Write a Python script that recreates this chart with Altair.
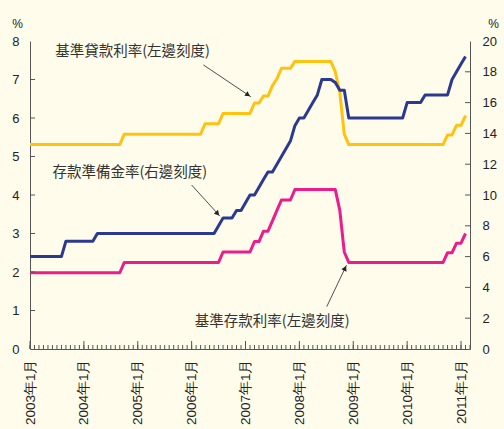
import json
import math
import altair as alt
import pandas as pd

# ---------------- data (monthly, 2003-01 .. 2011-02) ----------------
lending = [
    5.31, 5.31, 5.31, 5.31, 5.31, 5.31, 5.31, 5.31, 5.31, 5.31, 5.31, 5.31,   # 2003
    5.31, 5.31, 5.31, 5.31, 5.31, 5.31, 5.31, 5.31, 5.31, 5.58, 5.58, 5.58,   # 2004
    5.58, 5.58, 5.58, 5.58, 5.58, 5.58, 5.58, 5.58, 5.58, 5.58, 5.58, 5.58,   # 2005
    5.58, 5.58, 5.58, 5.85, 5.85, 5.85, 5.85, 6.12, 6.12, 6.12, 6.12, 6.12,   # 2006
    6.12, 6.12, 6.39, 6.39, 6.57, 6.57, 6.84, 7.02, 7.29, 7.29, 7.29, 7.47,   # 2007
    7.47, 7.47, 7.47, 7.47, 7.47, 7.47, 7.47, 7.47, 7.20, 6.66, 5.58, 5.31,   # 2008
    5.31, 5.31, 5.31, 5.31, 5.31, 5.31, 5.31, 5.31, 5.31, 5.31, 5.31, 5.31,   # 2009
    5.31, 5.31, 5.31, 5.31, 5.31, 5.31, 5.31, 5.31, 5.31, 5.56, 5.56, 5.81,   # 2010
    5.81, 6.06,                                                               # 2011
]
deposit = [
    1.98, 1.98, 1.98, 1.98, 1.98, 1.98, 1.98, 1.98, 1.98, 1.98, 1.98, 1.98,
    1.98, 1.98, 1.98, 1.98, 1.98, 1.98, 1.98, 1.98, 1.98, 2.25, 2.25, 2.25,
    2.25, 2.25, 2.25, 2.25, 2.25, 2.25, 2.25, 2.25, 2.25, 2.25, 2.25, 2.25,
    2.25, 2.25, 2.25, 2.25, 2.25, 2.25, 2.25, 2.52, 2.52, 2.52, 2.52, 2.52,
    2.52, 2.52, 2.79, 2.79, 3.06, 3.06, 3.33, 3.60, 3.87, 3.87, 3.87, 4.14,
    4.14, 4.14, 4.14, 4.14, 4.14, 4.14, 4.14, 4.14, 4.14, 3.60, 2.52, 2.25,
    2.25, 2.25, 2.25, 2.25, 2.25, 2.25, 2.25, 2.25, 2.25, 2.25, 2.25, 2.25,
    2.25, 2.25, 2.25, 2.25, 2.25, 2.25, 2.25, 2.25, 2.25, 2.50, 2.50, 2.75,
    2.75, 3.00,
]
reserve = [
    6.0, 6.0, 6.0, 6.0, 6.0, 6.0, 6.0, 6.0, 7.0, 7.0, 7.0, 7.0,
    7.0, 7.0, 7.0, 7.5, 7.5, 7.5, 7.5, 7.5, 7.5, 7.5, 7.5, 7.5,
    7.5, 7.5, 7.5, 7.5, 7.5, 7.5, 7.5, 7.5, 7.5, 7.5, 7.5, 7.5,
    7.5, 7.5, 7.5, 7.5, 7.5, 7.5, 8.0, 8.5, 8.5, 8.5, 9.0, 9.0,
    9.5, 10.0, 10.0, 10.5, 11.0, 11.5, 11.5, 12.0, 12.5, 13.0, 13.5, 14.5,
    15.0, 15.0, 15.5, 16.0, 16.5, 17.5, 17.5, 17.5, 17.3, 16.8, 16.8, 15.0,
    15.0, 15.0, 15.0, 15.0, 15.0, 15.0, 15.0, 15.0, 15.0, 15.0, 15.0, 15.0,
    16.0, 16.0, 16.0, 16.0, 16.5, 16.5, 16.5, 16.5, 16.5, 16.5, 17.5, 18.0,
    18.5, 19.0,
]
months = list(range(len(lending)))

x_tick_values = [0, 12, 24, 36, 48, 60, 72, 84, 96]
x_labels = ["2003年1月", "2004年1月", "2005年1月", "2006年1月", "2007年1月",
            "2008年1月", "2009年1月", "2010年1月", "2011年1月"]
left_ticks = [0, 1, 2, 3, 4, 5, 6, 7, 8]
right_ticks = [0, 2, 4, 6, 8, 10, 12, 14, 16, 18, 20]

ann_text = ["基準貸款利率(左邊刻度)", "存款準備金率(右邊刻度)", "基準存款利率(左邊刻度)"]
ann_x = [5.6, 5.0, 36.7]
ann_y = [7.71, 4.57, 0.71]

arrow_x1 = [38.6, 36.0, 66.1]
arrow_y1 = [7.38, 4.26, 1.10]
arrow_x2 = [49.2, 42.3, 70.5]
arrow_y2 = [6.55, 3.45, 2.18]

# ---------------- styling ----------------
W, H = 440, 308
YEL, PINK, BLUE = "#FFC20E", "#EC1C8C", "#2B3A90"
BG = "#fffceb"
AX = "#555555"
TXT = "#222222"
NUM_FONT = "Liberation Sans"
CJK_FONT = "Noto Sans CJK TC"

df = pd.DataFrame({"m": months, "lend": lending, "dep": deposit, "rrr": reserve})

xscale = alt.Scale(domain=[0, 98], nice=False, zero=False)
lscale = alt.Scale(domain=[0, 8], nice=False)
rscale = alt.Scale(domain=[0, 20], nice=False)

label_expr = json.dumps(x_labels, ensure_ascii=False) + "[round(datum.value/12)]"
x_axis = alt.Axis(values=x_tick_values, labelExpr=label_expr, labelAngle=-90,
                  labelFont=NUM_FONT, labelFontSize=13.5, labelColor=TXT,
                  labelPadding=10, ticks=False, grid=False,
                  domainColor=AX, domainWidth=1, title=None)
left_axis = alt.Axis(values=left_ticks, orient="left", ticks=False,
                     labelPadding=11, labelFont=NUM_FONT, labelFontSize=13,
                     labelColor=TXT, grid=False, domainColor=AX, domainWidth=1,
                     title="%", titleAngle=0, titleX=-13, titleY=-18,
                     titleAlign="center", titleBaseline="middle",
                     titleFont=NUM_FONT, titleFontSize=12,
                     titleFontWeight="normal", titleColor=TXT)
right_axis = alt.Axis(values=right_ticks, orient="right", ticks=False,
                      labelPadding=12, labelFont=NUM_FONT, labelFontSize=13,
                      labelColor=TXT, grid=False, domainColor=AX, domainWidth=1,
                      title="%", titleAngle=0, titleX=23, titleY=-18,
                      titleAlign="center", titleBaseline="middle",
                      titleFont=NUM_FONT, titleFontSize=12,
                      titleFontWeight="normal", titleColor=TXT)


def X(field):
    return alt.X(field, scale=xscale, axis=x_axis)


base = alt.Chart(df)

lend_line = base.mark_line(color=YEL, strokeWidth=3, strokeJoin="round").encode(
    x=X("m:Q"),
    y=alt.Y("lend:Q", scale=lscale, axis=left_axis),
)
rrr_line = base.mark_line(color=BLUE, strokeWidth=3, strokeJoin="round").encode(
    x=X("m:Q"),
    y=alt.Y("rrr:Q", scale=rscale, axis=right_axis),
)
dep_line = base.mark_line(color=PINK, strokeWidth=3, strokeJoin="round").encode(
    x=X("m:Q"),
    y=alt.Y("dep:Q", scale=lscale, axis=None),
)

# manual inward ticks
minor = alt.Chart(pd.DataFrame({"m": list(range(0, 99))})).mark_rule(
    color=AX, strokeWidth=1).encode(
    x=X("m:Q"), y=alt.value(H), y2=alt.value(H - 4))
major = alt.Chart(pd.DataFrame({"m": x_tick_values})).mark_rule(
    color=AX, strokeWidth=1).encode(
    x=X("m:Q"), y=alt.value(H), y2=alt.value(H - 8))
lticks = alt.Chart(pd.DataFrame({"v": left_ticks[1:-1]})).mark_rule(
    color=AX, strokeWidth=1).encode(
    y=alt.Y("v:Q", scale=lscale, axis=None), x=alt.value(0), x2=alt.value(5))
rticks = alt.Chart(pd.DataFrame({"v": right_ticks[1:-1]})).mark_rule(
    color=AX, strokeWidth=1).encode(
    y=alt.Y("v:Q", scale=rscale, axis=None), x=alt.value(W), x2=alt.value(W - 5))

# annotations
tdf = pd.DataFrame({"label": ann_text, "x": ann_x, "y": ann_y})
texts = alt.Chart(tdf).mark_text(align="left", baseline="middle", font=CJK_FONT,
                                 fontSize=14.5, color="#333333").encode(
    x=X("x:Q"),
    y=alt.Y("y:Q", scale=lscale, axis=None),
    text="label:N",
)

PX_X = W / 98.0
PX_Y = H / 8.0
heads = []
for x1, y1, x2, y2 in zip(arrow_x1, arrow_y1, arrow_x2, arrow_y2):
    dx = (x2 - x1) * PX_X
    dy = -(y2 - y1) * PX_Y
    L = math.hypot(dx, dy)
    ux, uy = dx / L, dy / L
    ang = math.degrees(math.atan2(dx, -dy)) % 360
    heads.append({"hx": x2 - 3.5 * ux / PX_X, "hy": y2 + 3.5 * uy / PX_Y, "ang": ang})
adf = pd.DataFrame({"x1": arrow_x1, "y1": arrow_y1, "x2": arrow_x2, "y2": arrow_y2})
hdf = pd.DataFrame(heads)

arrows = alt.Chart(adf).mark_rule(color=TXT, strokeWidth=0.8).encode(
    x=X("x1:Q"),
    y=alt.Y("y1:Q", scale=lscale, axis=None),
    x2="x2:Q", y2="y2:Q",
)
arrowheads = alt.Chart(hdf).mark_point(shape="triangle-up", filled=True, size=32,
                                       color=TXT, opacity=1).encode(
    x=X("hx:Q"),
    y=alt.Y("hy:Q", scale=lscale, axis=None),
    angle=alt.Angle("ang:Q", scale=None),
)

chart = alt.layer(
    lend_line, rrr_line, dep_line, minor, major, lticks, rticks,
    arrows, arrowheads, texts,
).resolve_scale(y="independent").properties(
    width=W, height=H,
    autosize=alt.AutoSizeParams(type="none"),
    padding={"left": 30, "top": 41, "right": 34, "bottom": 80},
).configure(background=BG).configure_view(strokeWidth=0)

chart.save("out.html", embed_options={"renderer": "svg", "actions": False})
